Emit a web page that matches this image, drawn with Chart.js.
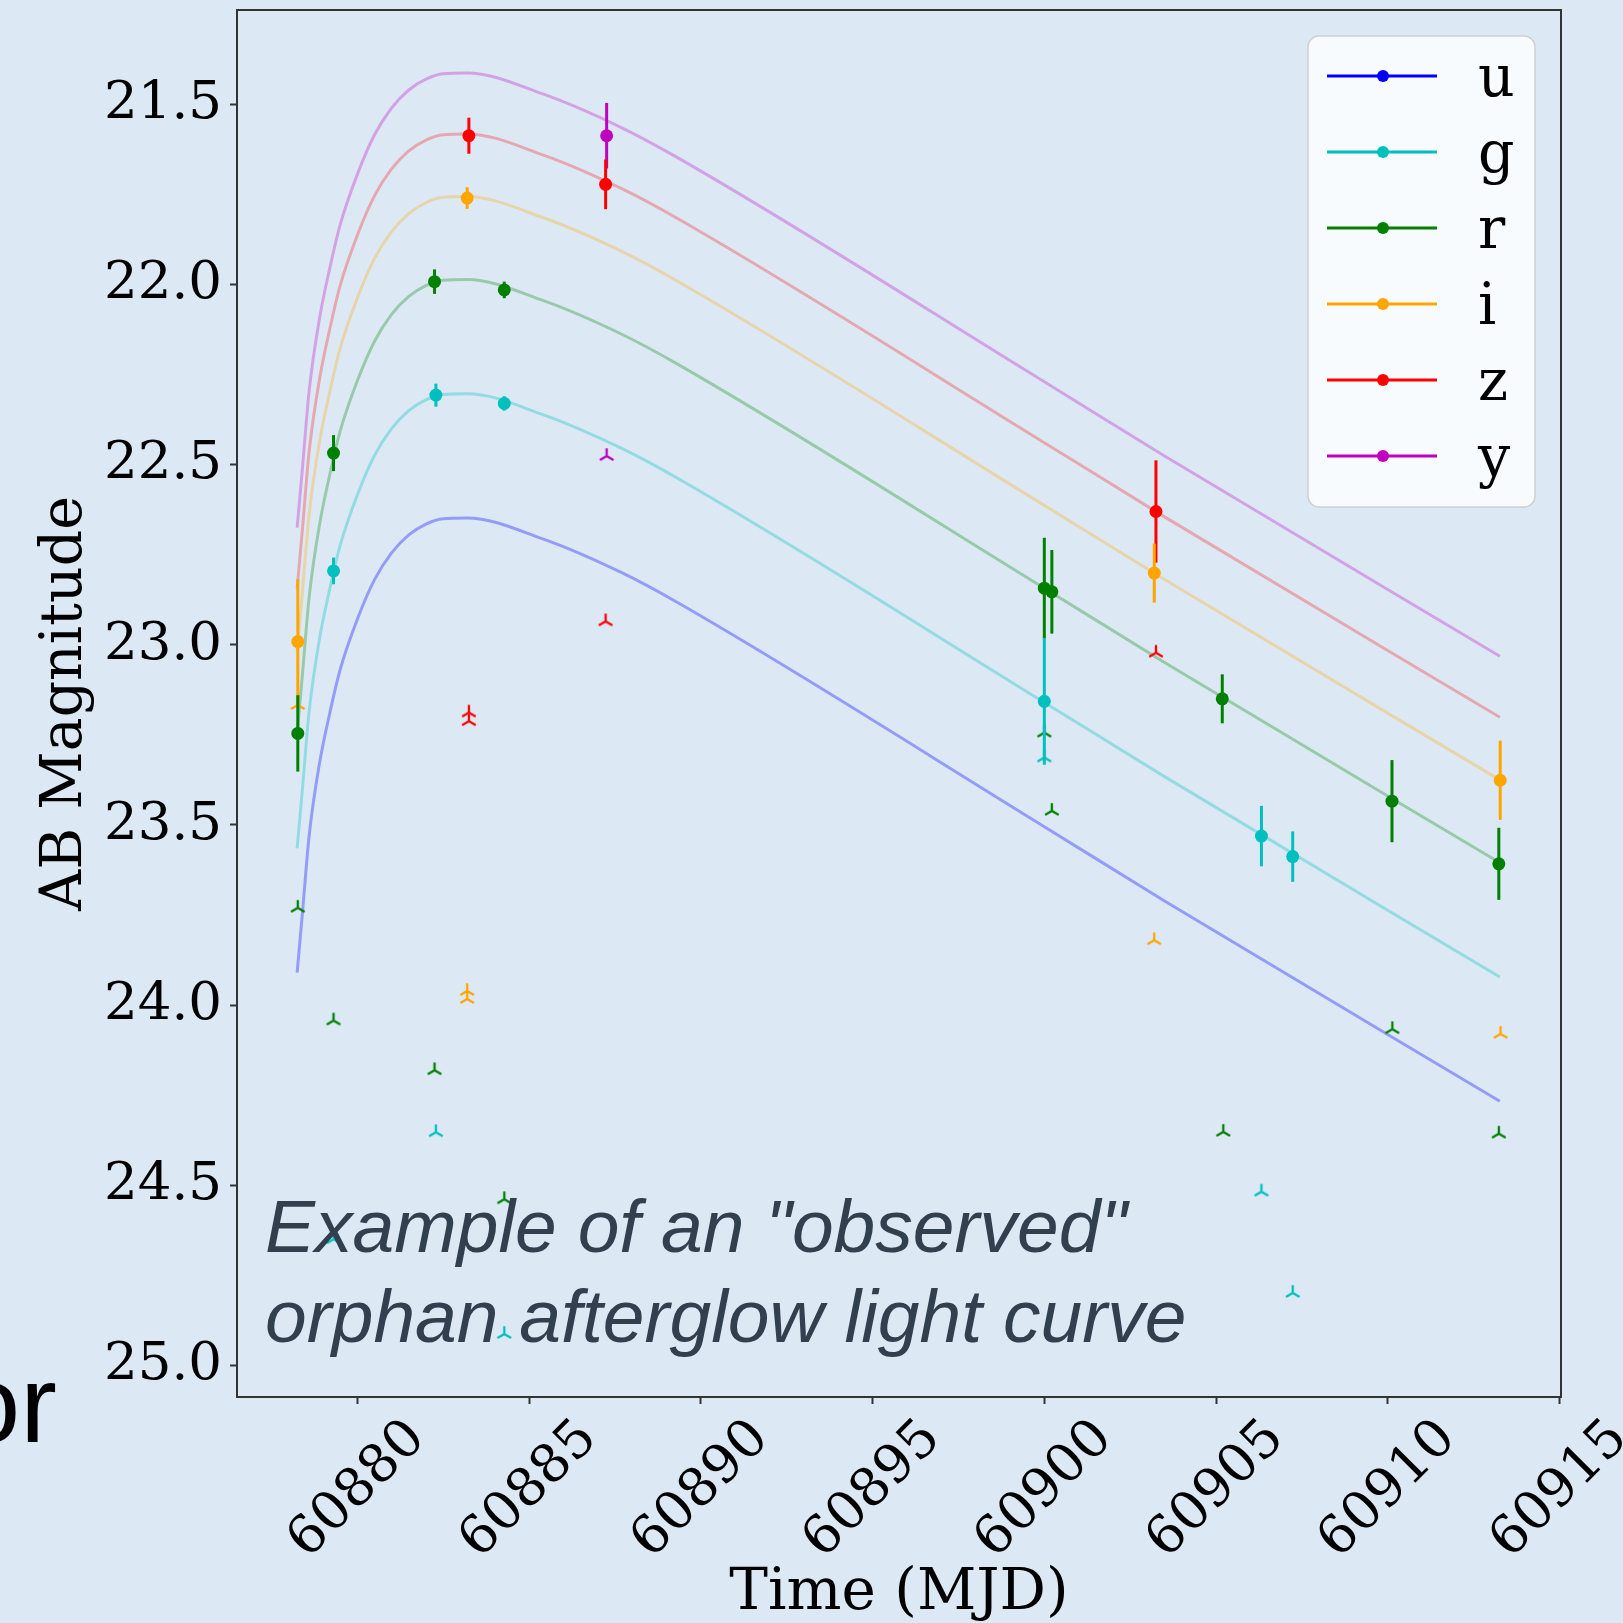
<!DOCTYPE html>
<html>
<head>
<meta charset="utf-8">
<title>Orphan afterglow light curve</title>
<script src="https://cdn.jsdelivr.net/npm/chart.js@4.4.1/dist/chart.umd.min.js"></script>
<style>
    body { margin: 0; background: #dce9f5; }
    #page { position: relative; width: 1623px; height: 1623px; overflow: hidden; background: #dce9f5; }
    #lcChart { position: absolute; left: 0; top: 0; }
    .note
    {
        position: absolute; left: 265px; top: 1181px;
        font-family: 'Liberation Sans', Arial, sans-serif; font-style: italic;
        font-size: 75px; line-height: 90px; color: #323f4f; white-space: nowrap;
    }
    .side
    {
        position: absolute; left: -41px; top: 1349px;
        font-family: 'Liberation Sans', Arial, sans-serif;
        font-size: 110px; line-height: 110px; color: #000;
    }
</style>
</head>
<body>
<div id="page">
    <canvas id="lcChart" width="1623" height="1623"></canvas>
    <div class="note">Example of an &quot;observed&quot;<br>orphan afterglow light curve</div>
    <div class="side">or</div>
</div>
<script>
//bands and their matplotlib colours
const bands = ['u', 'g', 'r', 'i', 'z', 'y'];
const bandColors = ['#0000ff', '#00bfbf', '#008000', '#ffa500', '#ff0000', '#bf00bf'];
const curveColors = ['rgba(0,0,255,0.33)', 'rgba(0,191,191,0.33)', 'rgba(0,128,0,0.3)', 'rgba(255,165,0,0.3)', 'rgba(255,0,0,0.28)', 'rgba(191,0,191,0.3)'];

//model light curves (MJD, AB mag)
const modelTimes = [60878.25, 60878.4, 60878.6, 60878.9, 60879.2, 60879.5, 60880.0, 60880.5, 60881.0, 60881.5, 60882.0, 60882.5, 60883.2, 60885.4, 60887.7, 60889.4, 60900.0, 60903.5, 60913.26];
const uModel = [23.91, 23.75, 23.53, 23.33, 23.19, 23.07, 22.93, 22.82, 22.745, 22.695, 22.665, 22.65, 22.648, 22.706, 22.80, 22.887, 23.505, 23.711, 24.267];
const gModel = [23.565, 23.405, 23.185, 22.985, 22.845, 22.725, 22.585, 22.475, 22.40, 22.35, 22.32, 22.305, 22.303, 22.361, 22.455, 22.542, 23.16, 23.366, 23.922];
const rModel = [23.248, 23.088, 22.868, 22.668, 22.528, 22.408, 22.268, 22.158, 22.083, 22.033, 22.003, 21.988, 21.986, 22.044, 22.138, 22.225, 22.843, 23.049, 23.605];
const iModel = [23.018, 22.858, 22.638, 22.438, 22.298, 22.178, 22.038, 21.928, 21.853, 21.803, 21.773, 21.758, 21.756, 21.814, 21.908, 21.995, 22.613, 22.819, 23.375];
const zModel = [22.844, 22.684, 22.464, 22.264, 22.124, 22.004, 21.864, 21.754, 21.679, 21.629, 21.599, 21.584, 21.582, 21.640, 21.734, 21.821, 22.439, 22.645, 23.201];
const yModel = [22.675, 22.515, 22.295, 22.095, 21.955, 21.835, 21.695, 21.585, 21.51, 21.46, 21.43, 21.415, 21.413, 21.471, 21.565, 21.652, 22.27, 22.476, 23.032];

//detections: time, mag, error
const uObsTime = [];
const uObsMag = [];
const uObsErr = [];
const gObsTime = [60879.31, 60882.29, 60884.28, 60900.0, 60906.32, 60907.23];
const gObsMag = [22.795, 22.307, 22.330, 23.157, 23.531, 23.588];
const gObsErr = [0.037, 0.032, 0.02, 0.176, 0.084, 0.07];
const rObsTime = [60878.27, 60879.31, 60882.25, 60884.28, 60900.0, 60900.22, 60905.18, 60910.12, 60913.23];
const rObsMag = [23.246, 22.468, 21.992, 22.015, 22.843, 22.853, 23.150, 23.434, 23.608];
const rObsErr = [0.106, 0.05, 0.034, 0.023, 0.14, 0.116, 0.068, 0.114, 0.10];
const iObsTime = [60878.27, 60883.2, 60903.2, 60913.27];
const iObsMag = [22.991, 21.76, 22.801, 23.376];
const iObsErr = [0.173, 0.03, 0.082, 0.11];
const zObsTime = [60883.25, 60887.23, 60903.25];
const zObsMag = [21.587, 21.722, 22.630];
const zObsErr = [0.05, 0.069, 0.142];
const yObsTime = [60887.26];
const yObsMag = [21.587];
const yObsErr = [0.091];

//upper limits
const uLimTime = [];
const uLimMag = [];
const gLimTime = [60879.31, 60882.29, 60884.28, 60900.0, 60906.32, 60907.23];
const gLimMag = [24.65, 24.353, 24.913, 23.313, 24.518, 24.799];
const rLimTime = [60878.27, 60879.31, 60882.25, 60884.28, 60900.0, 60900.22, 60905.21, 60910.13, 60913.23];
const rLimMag = [23.73, 24.043, 24.181, 24.539, 23.244, 23.461, 24.352, 24.067, 24.357];
const iLimTime = [60878.27, 60883.2, 60883.2, 60903.2, 60913.28];
const iLimMag = [23.167, 23.961, 23.983, 23.82, 24.08];
const zLimTime = [60883.25, 60883.25, 60887.23, 60903.25];
const zLimMag = [23.188, 23.212, 22.935, 23.022];
const yLimTime = [60887.26];
const yLimMag = [22.476];

const xTicks = [60880, 60885, 60890, 60895, 60900, 60905, 60910, 60915];
const yTicks = [21.5, 22.0, 22.5, 23.0, 23.5, 24.0, 24.5, 25.0];

const models = [uModel, gModel, rModel, iModel, zModel, yModel];
const obsTimes = [uObsTime, gObsTime, rObsTime, iObsTime, zObsTime, yObsTime];
const obsMags = [uObsMag, gObsMag, rObsMag, iObsMag, zObsMag, yObsMag];
const obsErrs = [uObsErr, gObsErr, rObsErr, iObsErr, zObsErr, yObsErr];
const limTimes = [uLimTime, gLimTime, rLimTime, iLimTime, zLimTime, yLimTime];
const limMags = [uLimMag, gLimMag, rLimMag, iLimMag, zLimMag, yLimMag];

const serif = "'DejaVu Serif', serif";

function ToPoints (_xs, _ys)
{
    return _xs.map((x, i) => ({ x: x, y: _ys[i] }));
}

//tri_up marker like matplotlib '2'
function MakeTriMarker (_color)
{
    var c = document.createElement('canvas');
    c.width = 20;
    c.height = 20;
    var g = c.getContext('2d');
    g.strokeStyle = _color;
    g.lineWidth = 2.3;
    g.beginPath();
    g.moveTo(10, 10); g.lineTo(10, 2.2);
    g.moveTo(10, 10); g.lineTo(3.2, 13.9);
    g.moveTo(10, 10); g.lineTo(16.8, 13.9);
    g.stroke();
    return c;
}

function BuildDatasets ()
{
    var datasets = [];
    for (var b = 0; b < bands.length; b++)
    {
        datasets.push({
            type: 'line',
            label: bands[b] + ' model',
            data: ToPoints(modelTimes, models[b]),
            borderColor: curveColors[b],
            borderWidth: 3,
            pointRadius: 0,
            cubicInterpolationMode: 'monotone',
            order: 3
        });
    }
    for (var b = 0; b < bands.length; b++)
    {
        datasets.push({
            type: 'scatter',
            label: bands[b] + ' limits',
            data: ToPoints(limTimes[b], limMags[b]),
            pointStyle: MakeTriMarker(bandColors[b]),
            pointRadius: 5,
            order: 2
        });
    }
    for (var b = 0; b < bands.length; b++)
    {
        datasets.push({
            type: 'scatter',
            label: bands[b],
            data: ToPoints(obsTimes[b], obsMags[b]),
            errors: obsErrs[b],
            backgroundColor: bandColors[b],
            borderWidth: 0,
            pointRadius: 6.5,
            order: 1
        });
    }
    return datasets;
}

const errorBarPlugin =
{
    id: 'errorBars',
    beforeDatasetDraw (chart, args)
    {
        const ds = chart.data.datasets[args.index];
        if (!ds.errors) return;
        const yScale = chart.scales.y;
        const ctx = chart.ctx;
        ctx.save();
        ctx.strokeStyle = ds.backgroundColor;
        ctx.lineWidth = 3;
        args.meta.data.forEach((pt, i) => {
            ctx.beginPath();
            ctx.moveTo(pt.x, yScale.getPixelForValue(ds.data[i].y - ds.errors[i]));
            ctx.lineTo(pt.x, yScale.getPixelForValue(ds.data[i].y + ds.errors[i]));
            ctx.stroke();
        });
        ctx.restore();
    }
};

//axes box plus the matplotlib-style legend in the upper right
const frameLegendPlugin =
{
    id: 'frameLegend',
    afterDraw (chart)
    {
        const ctx = chart.ctx;
        const a = chart.chartArea;
        ctx.save();
        ctx.strokeStyle = '#333333';
        ctx.lineWidth = 2;
        ctx.strokeRect(a.left, a.top, a.right - a.left, a.bottom - a.top);

        const bx = 1308, by = 36, bw = 227, bh = 471;
        ctx.beginPath();
        ctx.roundRect(bx, by, bw, bh, 11);
        ctx.fillStyle = 'rgba(255,255,255,0.8)';
        ctx.fill();
        ctx.strokeStyle = 'rgba(204,204,204,0.9)';
        ctx.lineWidth = 1.5;
        ctx.stroke();

        ctx.font = '57px ' + serif;
        ctx.textBaseline = 'alphabetic';
        ctx.textAlign = 'left';
        for (var b = 0; b < bands.length; b++)
        {
            const rowY = 76 + b * 76;
            ctx.strokeStyle = bandColors[b];
            ctx.lineWidth = 3;
            ctx.beginPath();
            ctx.moveTo(1327, rowY);
            ctx.lineTo(1437, rowY);
            ctx.stroke();
            ctx.fillStyle = bandColors[b];
            ctx.beginPath();
            ctx.arc(1383, rowY, 6, 0, Math.PI * 2);
            ctx.fill();
            ctx.fillStyle = '#000';
            ctx.fillText(bands[b], 1478, rowY + 20);
        }
        ctx.restore();
    }
};

function DrawChart ()
{
    const config =
    {
        type: 'scatter',
        data: { datasets: BuildDatasets() },
        options:
        {
            responsive: false,
            animation: false,
            devicePixelRatio: 1,
            events: [],
            layout: { padding: { left: 0, top: 10, right: 62, bottom: 0 } },
            plugins:
            {
                legend: { display: false },
                tooltip: { enabled: false }
            },
            scales:
            {
                x:
                {
                    type: 'linear',
                    min: 60876.50,
                    max: 60915.04,
                    afterBuildTicks: (axis) => { axis.ticks = xTicks.map(v => ({ value: v })); },
                    afterFit: (axis) => { axis.height = 226; axis.paddingLeft = 0; axis.paddingRight = 0; },
                    border: { display: false },
                    grid: { drawOnChartArea: false, drawTicks: true, tickLength: 7, tickWidth: 2, tickColor: '#333333' },
                    ticks:
                    {
                        autoSkip: false,
                        minRotation: 45,
                        maxRotation: 45,
                        labelOffset: 60,
                        padding: 4,
                        color: '#000',
                        font: { family: serif, size: 53 },
                        callback: (v) => v.toFixed(0)
                    },
                    title:
                    {
                        display: true,
                        text: 'Time (MJD)',
                        color: '#000',
                        font: { family: serif, size: 58, lineHeight: 1 },
                        padding: { top: 0, bottom: 0 }
                    }
                },
                y:
                {
                    type: 'linear',
                    reverse: true,
                    min: 21.238,
                    max: 25.088,
                    afterBuildTicks: (axis) => { axis.ticks = yTicks.map(v => ({ value: v })); },
                    afterFit: (axis) => { axis.width = 237; axis.paddingTop = 0; axis.paddingBottom = 0; },
                    border: { display: false },
                    grid: { drawOnChartArea: false, drawTicks: true, tickLength: 7, tickWidth: 2, tickColor: '#333333' },
                    ticks:
                    {
                        padding: 8,
                        color: '#000',
                        font: { family: serif, size: 53 },
                        callback: (v) => v.toFixed(1)
                    },
                    title:
                    {
                        display: true,
                        text: 'AB Magnitude',
                        color: '#000',
                        font: { family: serif, size: 57, lineHeight: 1 },
                        padding: { top: 38, bottom: 0 }
                    }
                }
            }
        },
        plugins: [errorBarPlugin, frameLegendPlugin]
    };

    const ctx = document.getElementById('lcChart').getContext('2d');
    if (ctx) {
        new Chart(ctx, config);
    } else {
        console.error('Canvas "lcChart" not found.');
    }
}

DrawChart();
</script>
</body>
</html>
